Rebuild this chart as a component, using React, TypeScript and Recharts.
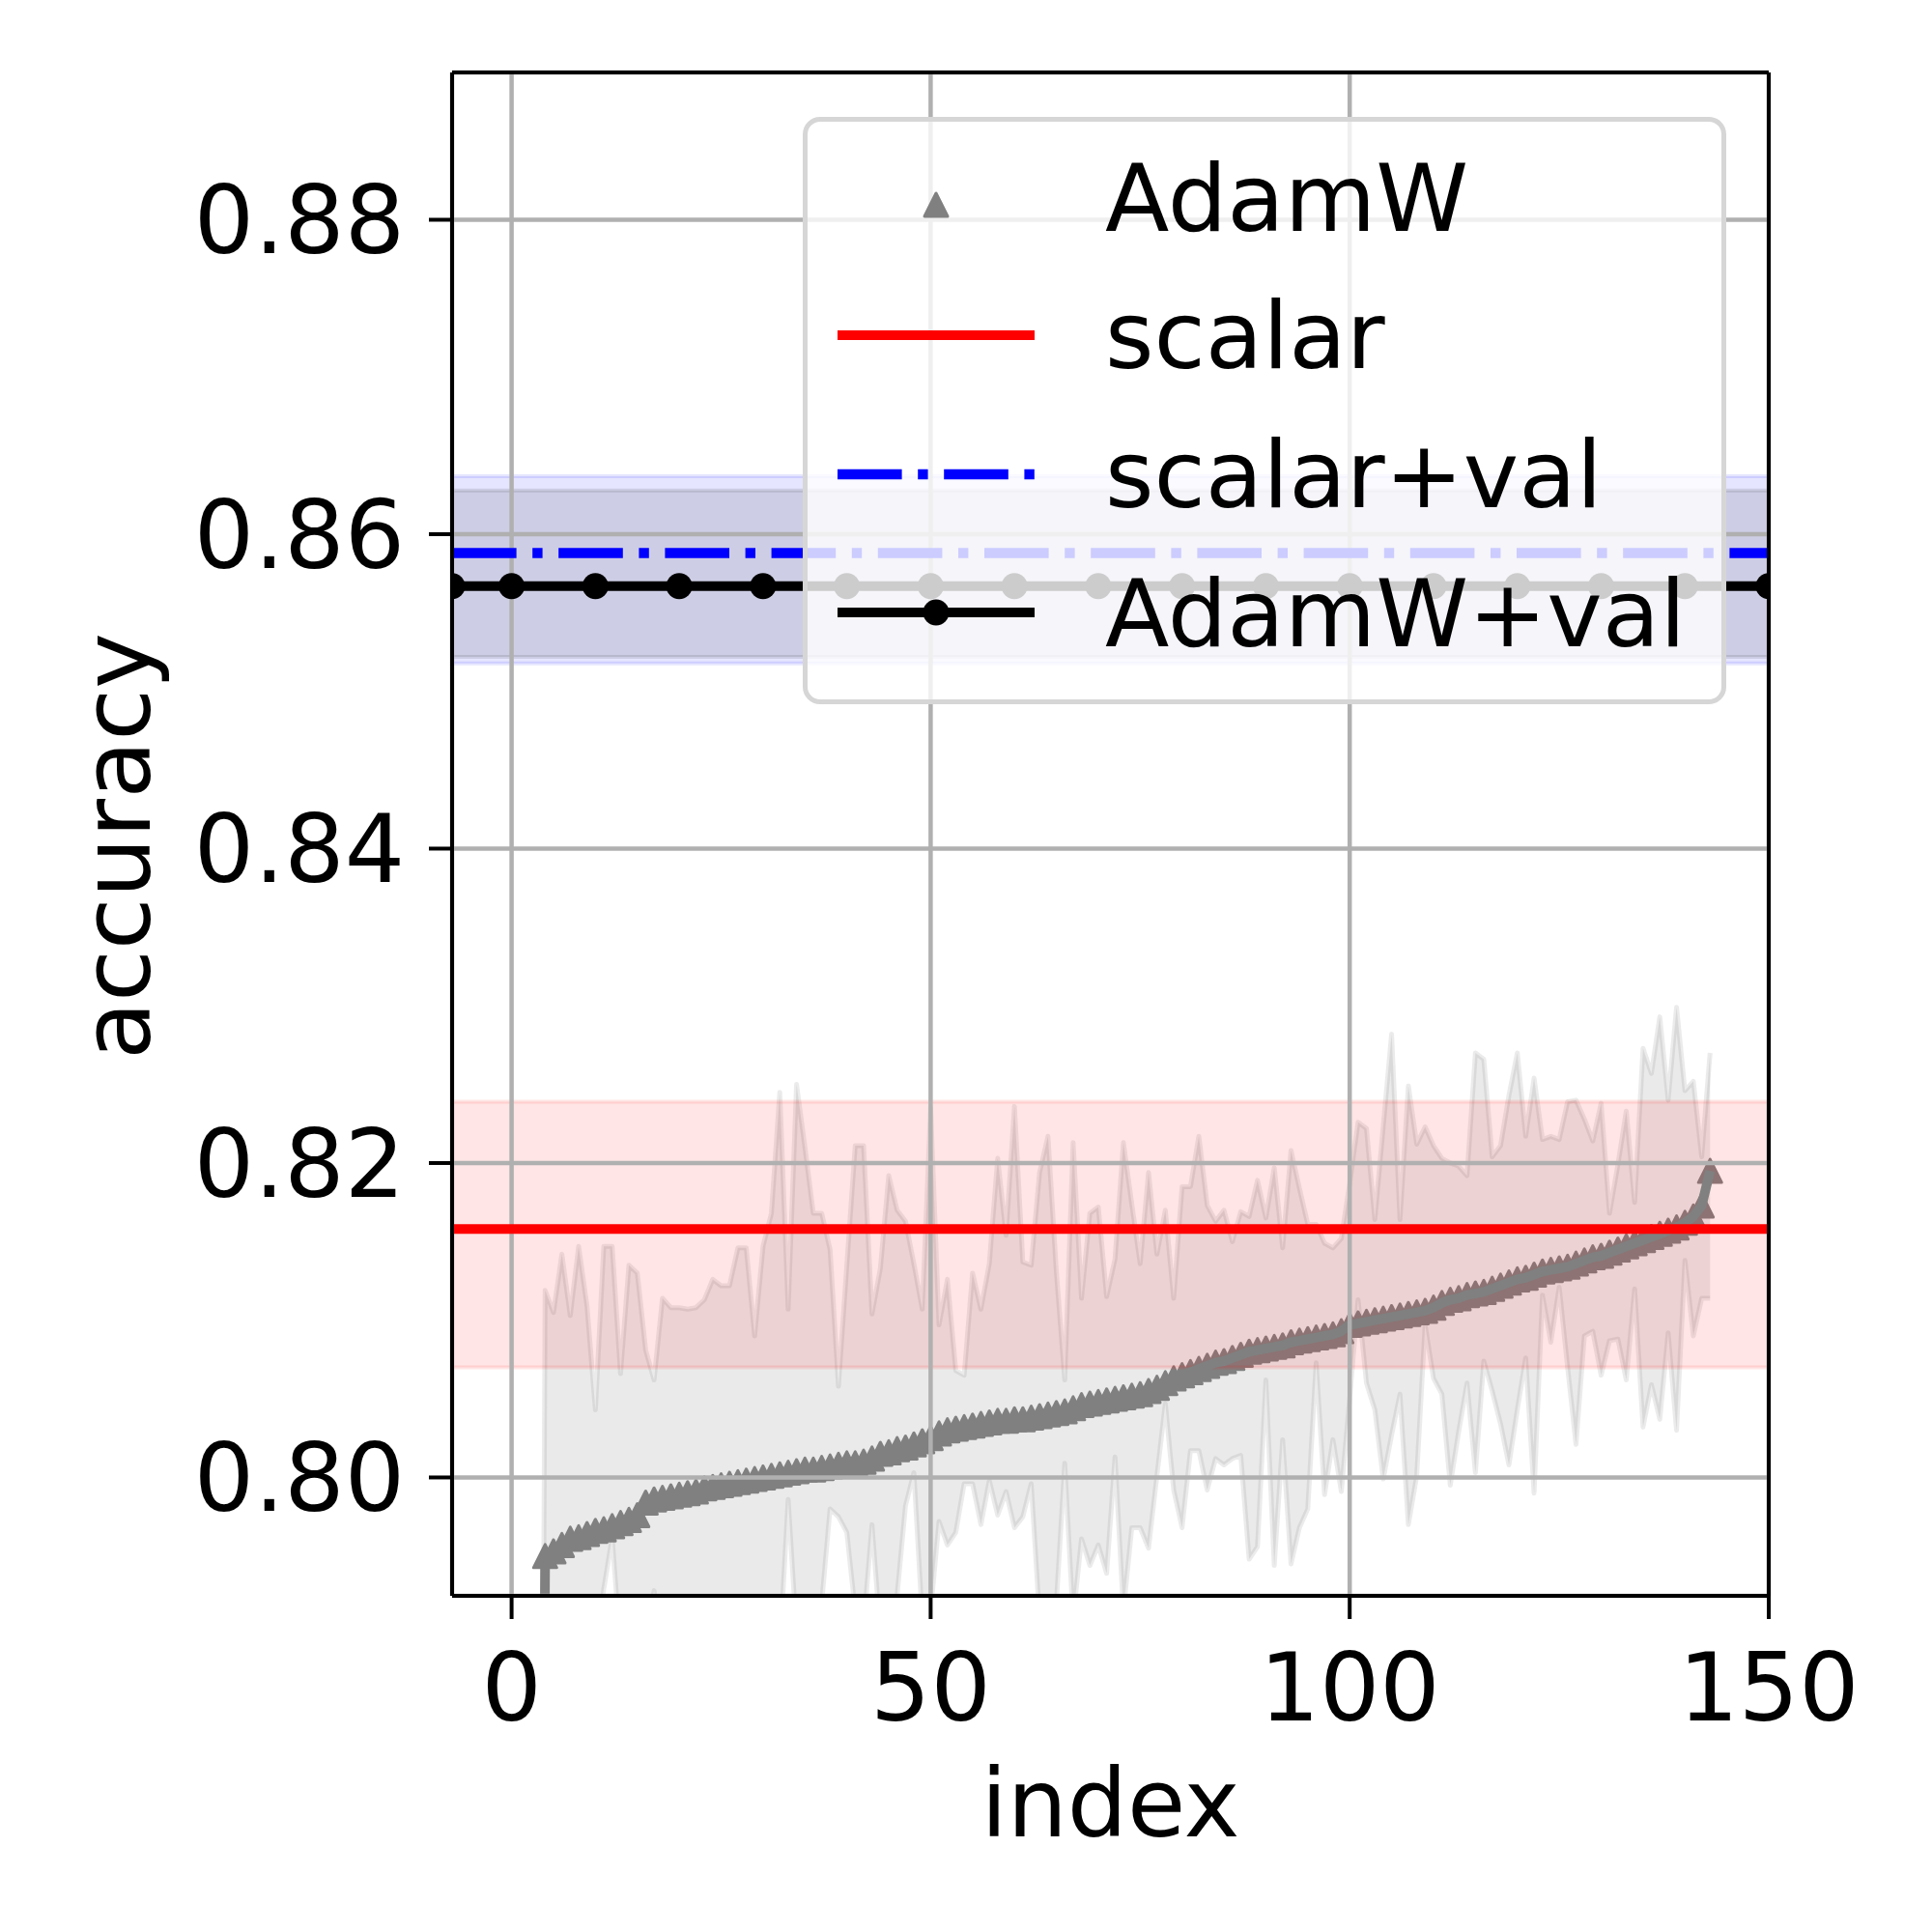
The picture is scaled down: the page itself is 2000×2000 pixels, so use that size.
import {
  ComposedChart,
  Area,
  Line,
  Scatter,
  XAxis,
  YAxis,
  CartesianGrid,
  ReferenceLine,
  Legend,
  Label,
} from 'recharts'

const FONT = '"DejaVu Sans", sans-serif'
const FONT_SIZE = 98

// AdamW runs, sorted by mean accuracy; the first four fall far below the plotted range
const FIRST_INDEX = 0

const ADAMW_MEAN = [
  0.6400, 0.6600, 0.6800, 0.7000,
  0.7950, 0.7953, 0.7957, 0.7961, 0.7962, 0.7964, 0.7966, 0.7967, 0.7969, 0.7971,
  0.7973, 0.7976, 0.7984, 0.7986, 0.7987, 0.7988, 0.7989, 0.7990, 0.7991, 0.7993,
  0.7994, 0.7995, 0.7996, 0.7997, 0.7998, 0.7999, 0.8000, 0.8001, 0.8002, 0.8003,
  0.8004, 0.8005, 0.8005, 0.8006, 0.8007, 0.8008, 0.8009, 0.8009, 0.8010, 0.8012,
  0.8015, 0.8016, 0.8018, 0.8019, 0.8021, 0.8023, 0.8025, 0.8028, 0.8030, 0.8031,
  0.8032, 0.8033, 0.8034, 0.8035, 0.8036, 0.8036, 0.8037, 0.8037, 0.8038, 0.8039,
  0.8040, 0.8041, 0.8042, 0.8044, 0.8046, 0.8047, 0.8048, 0.8049, 0.8050, 0.8051,
  0.8052, 0.8053, 0.8055, 0.8057, 0.8060, 0.8063, 0.8065, 0.8067, 0.8069, 0.8071,
  0.8073, 0.8074, 0.8076, 0.8078, 0.8080, 0.8081, 0.8082, 0.8083, 0.8084, 0.8086,
  0.8087, 0.8088, 0.8089, 0.8090, 0.8091, 0.8093, 0.8097, 0.8098, 0.8099, 0.8100,
  0.8101, 0.8102, 0.8103, 0.8104, 0.8105, 0.8106, 0.8108, 0.8111, 0.8113, 0.8114,
  0.8116, 0.8117, 0.8118, 0.8120, 0.8122, 0.8124, 0.8126, 0.8127, 0.8129, 0.8131,
  0.8132, 0.8133, 0.8134, 0.8136, 0.8138, 0.8140, 0.8141, 0.8143, 0.8145, 0.8147,
  0.8149, 0.8151, 0.8153, 0.8155, 0.8157, 0.8159, 0.8162, 0.8166, 0.8173, 0.8195,
]

const ADAMW_UPPER = [
  0.6600, 0.6800, 0.6900, 0.7000,
  0.8119, 0.8105, 0.8142, 0.8103, 0.8147, 0.8109, 0.8043, 0.8147, 0.8147, 0.8066,
  0.8135, 0.8130, 0.8081, 0.8062, 0.8114, 0.8108, 0.8108, 0.8107, 0.8108, 0.8113,
  0.8126, 0.8122, 0.8122, 0.8146, 0.8146, 0.8090, 0.8147, 0.8168, 0.8245, 0.8107,
  0.8250, 0.8210, 0.8168, 0.8168, 0.8145, 0.8058, 0.8135, 0.8211, 0.8211, 0.8104,
  0.8133, 0.8192, 0.8170, 0.8163, 0.8136, 0.8107, 0.8235, 0.8097, 0.8126, 0.8068,
  0.8065, 0.8130, 0.8107, 0.8136, 0.8203, 0.8154, 0.8236, 0.8137, 0.8135, 0.8194,
  0.8217, 0.8131, 0.8062, 0.8213, 0.8114, 0.8168, 0.8172, 0.8115, 0.8139, 0.8213,
  0.8174, 0.8136, 0.8194, 0.8142, 0.8170, 0.8114, 0.8185, 0.8185, 0.8217, 0.8173,
  0.8163, 0.8170, 0.8150, 0.8169, 0.8166, 0.8189, 0.8165, 0.8197, 0.8146, 0.8208,
  0.8184, 0.8161, 0.8161, 0.8149, 0.8146, 0.8152, 0.8187, 0.8226, 0.8222, 0.8164,
  0.8223, 0.8282, 0.8164, 0.8249, 0.8212, 0.8223, 0.8211, 0.8203, 0.8200, 0.8198,
  0.8192, 0.8270, 0.8266, 0.8204, 0.8211, 0.8243, 0.8270, 0.8217, 0.8254, 0.8215,
  0.8217, 0.8215, 0.8239, 0.8240, 0.8228, 0.8214, 0.8238, 0.8168, 0.8199, 0.8233,
  0.8175, 0.8273, 0.8257, 0.8293, 0.8240, 0.8299, 0.8246, 0.8252, 0.8204, 0.8270,
]

const ADAMW_LOWER = [
  0.6200, 0.6400, 0.6600, 0.6800,
  0.7860, 0.7850, 0.7870, 0.7860, 0.7880, 0.7870, 0.7890, 0.7929, 0.7962, 0.7890,
  0.7870, 0.7880, 0.7900, 0.7928, 0.7890, 0.7870, 0.7880, 0.7890, 0.7880, 0.7900,
  0.7890, 0.7870, 0.7890, 0.7900, 0.7880, 0.7890, 0.7900, 0.7910, 0.7890, 0.7986,
  0.7900, 0.7890, 0.7910, 0.7920, 0.7980, 0.7975, 0.7965, 0.7915, 0.7905, 0.7970,
  0.7900, 0.7910, 0.7925, 0.7982, 0.8003, 0.7910, 0.7915, 0.7972, 0.7957, 0.7965,
  0.7996, 0.7996, 0.7970, 0.7998, 0.7976, 0.7991, 0.7968, 0.7975, 0.7996, 0.7910,
  0.7905, 0.7920, 0.8009, 0.7910, 0.7961, 0.7944, 0.7957, 0.7939, 0.8013, 0.7915,
  0.7968, 0.7968, 0.7955, 0.8001, 0.8047, 0.7992, 0.7968, 0.8017, 0.8017, 0.7992,
  0.8012, 0.8008, 0.8012, 0.8014, 0.7948, 0.7956, 0.8062, 0.7944, 0.8024, 0.7945,
  0.7968, 0.7980, 0.8073, 0.7989, 0.8024, 0.7991, 0.8050, 0.8113, 0.8060, 0.8043,
  0.7999, 0.8027, 0.8053, 0.7970, 0.8001, 0.8097, 0.8063, 0.8053, 0.7995, 0.8029,
  0.8060, 0.8003, 0.8074, 0.8055, 0.8034, 0.8008, 0.8043, 0.8076, 0.7990, 0.8116,
  0.8086, 0.8121, 0.8070, 0.8021, 0.8090, 0.8093, 0.8065, 0.8087, 0.8088, 0.8062,
  0.8120, 0.8032, 0.8059, 0.8037, 0.8092, 0.8030, 0.8138, 0.8090, 0.8114, 0.8114,
]

// horizontal references: mean and [low, high] band
const SCALAR_MEAN = 0.8158
const SCALAR_BAND = [0.807, 0.8239]
const SCALAR_VAL_MEAN = 0.8588
const SCALAR_VAL_BAND = [0.85178, 0.86369]
const ADAMW_VAL_MEAN = 0.8567
const ADAMW_VAL_BAND = [0.8522, 0.86278]
const ADAMW_VAL_X = [-7.1, 0, 10, 20, 30, 40, 50, 60, 70, 80, 90, 100, 110, 120, 130, 140, 150]

const X_DOMAIN = [-7.1, 150]
const Y_DOMAIN = [0.79247, 0.88937]
const X_TICKS = [0, 50, 100, 150]
const Y_TICKS = [0.8, 0.82, 0.84, 0.86, 0.88]

const DASH_DOT = '66.6 16.6 10.4 16.6'

function Triangle(props: any) {
  const { cx, cy } = props
  if (cx == null || cy == null) return null
  const h = 12
  return (
    <polygon
      points={`${cx},${cy - h} ${cx - h},${cy + h} ${cx + h},${cy + h}`}
      fill="#808080"
      stroke="#808080"
      strokeWidth={3}
      strokeLinejoin="round"
    />
  )
}

function LegendBox() {
  const textStyle = { fontFamily: FONT, fontSize: 97, fill: '#000' }
  return (
    <div
      style={{
        width: 956,
        height: 608,
        boxSizing: 'border-box',
        border: '5px solid #d6d6d6',
        borderRadius: 18,
        background: 'rgba(255,255,255,0.8)',
        position: 'relative',
      }}
    >
      <svg width={956} height={608} style={{ position: 'absolute', left: -5, top: -5, overflow: 'visible' }}>
        <polygon points="138,79 126,103 150,103" fill="#808080" stroke="#808080" strokeWidth={3} strokeLinejoin="round" />
        <text x={313} y={118} style={textStyle}>AdamW</text>

        <line x1={36} x2={240} y1={226} y2={226} stroke="#ff0000" strokeWidth={10} />
        <text x={313} y={260} style={textStyle}>scalar</text>

        <line x1={36} x2={240} y1={370} y2={370} stroke="#0000ff" strokeWidth={10.4} strokeDasharray={DASH_DOT} />
        <text x={313} y={404} style={textStyle}>scalar+val</text>

        <line x1={36} x2={240} y1={513} y2={513} stroke="#000" strokeWidth={10} />
        <circle cx={138} cy={513} r={13.5} fill="#000" />
        <text x={313} y={548} style={textStyle}>AdamW+val</text>
      </svg>
    </div>
  )
}

export default function App() {
  const rows = ADAMW_MEAN.map((m, i) => ({
    x: FIRST_INDEX + i,
    mean: m,
    upper: ADAMW_UPPER[i],
    lower: ADAMW_LOWER[i],
    band: [ADAMW_LOWER[i], ADAMW_UPPER[i]],
  }))
  const edgeRows = X_DOMAIN.map((x) => ({
    x,
    scalar: SCALAR_MEAN,
    scalarBand: SCALAR_BAND,
    scalarVal: SCALAR_VAL_MEAN,
    scalarValBand: SCALAR_VAL_BAND,
    adamwValBand: ADAMW_VAL_BAND,
  }))
  const adamwValRows = ADAMW_VAL_X.map((x) => ({ x, v: ADAMW_VAL_MEAN }))

  const tick = { fill: '#000', fontSize: FONT_SIZE, fontFamily: FONT }
  const axisStroke = { stroke: '#000', strokeWidth: 4 }

  return (
    <div style={{ position: 'absolute', left: 0, top: 0, width: 2000, height: 2000, background: '#fff', fontFamily: FONT }}>
      <ComposedChart width={2000} height={2000} data={rows} margin={{ top: 75, right: 169, bottom: 0, left: 0 }}>
        <XAxis
          dataKey="x"
          type="number"
          domain={X_DOMAIN}
          ticks={X_TICKS}
          interval={0}
          allowDataOverflow
          height={348}
          tickSize={24}
          tickMargin={35}
          tick={tick}
          tickLine={axisStroke}
          axisLine={axisStroke}
        >
          <Label
            content={(p: any) => (
              <text
                x={p.viewBox.x + p.viewBox.width / 2}
                y={1901}
                textAnchor="middle"
                style={{ fontFamily: FONT, fontSize: FONT_SIZE, fill: '#000' }}
              >
                index
              </text>
            )}
          />
        </XAxis>
        <YAxis
          type="number"
          domain={Y_DOMAIN}
          ticks={Y_TICKS}
          interval={0}
          allowDataOverflow
          width={468}
          tickSize={24}
          tickMargin={25}
          tick={tick}
          tickLine={axisStroke}
          axisLine={axisStroke}
          tickFormatter={(v: number) => v.toFixed(2)}
        >
          <Label
            content={() => (
              <text
                transform="translate(155, 876) rotate(-90)"
                textAnchor="middle"
                style={{ fontFamily: FONT, fontSize: FONT_SIZE, fill: '#000' }}
              >
                accuracy
              </text>
            )}
          />
        </YAxis>

        <Area
          dataKey="band"
          type="linear"
          fill="#808080"
          fillOpacity={0.17}
          stroke="none"
          dot={false}
          activeDot={false}
          isAnimationActive={false}
          zIndex={100}
        />
        <Line dataKey="upper" type="linear" stroke="#808080" strokeOpacity={0.16} strokeWidth={5} strokeLinejoin="round" dot={false} activeDot={false} isAnimationActive={false} zIndex={110} />
        <Line dataKey="lower" type="linear" stroke="#808080" strokeOpacity={0.16} strokeWidth={5} strokeLinejoin="round" dot={false} activeDot={false} isAnimationActive={false} zIndex={111} />
        <Scatter dataKey="mean" shape={Triangle} isAnimationActive={false} zIndex={120} />

        <Area data={edgeRows} dataKey="scalarBand" type="linear" fill="#ff0000" fillOpacity={0.1} stroke="#ff0000" strokeOpacity={0.1} strokeWidth={4} dot={false} activeDot={false} isAnimationActive={false} zIndex={130} />
        <Area data={edgeRows} dataKey="scalarValBand" type="linear" fill="#0000ff" fillOpacity={0.1} stroke="#0000ff" strokeOpacity={0.1} strokeWidth={4} dot={false} activeDot={false} isAnimationActive={false} zIndex={131} />
        <Area data={edgeRows} dataKey="adamwValBand" type="linear" fill="#000000" fillOpacity={0.1} stroke="#000000" strokeOpacity={0.1} strokeWidth={4} dot={false} activeDot={false} isAnimationActive={false} zIndex={132} />

        <Line dataKey="mean" type="linear" stroke="#808080" strokeWidth={10} strokeLinejoin="round" dot={false} activeDot={false} isAnimationActive={false} zIndex={140} />

        <CartesianGrid stroke="#b0b0b0" strokeWidth={4.5} zIndex={160} />

        <Line data={edgeRows} dataKey="scalar" type="linear" stroke="#ff0000" strokeWidth={10} dot={false} activeDot={false} isAnimationActive={false} zIndex={170} />
        <Line data={edgeRows} dataKey="scalarVal" type="linear" stroke="#0000ff" strokeWidth={10.4} strokeDasharray={DASH_DOT} dot={false} activeDot={false} isAnimationActive={false} zIndex={171} />
        <Line
          data={adamwValRows}
          dataKey="v"
          type="linear"
          stroke="#000"
          strokeWidth={10}
          dot={{ r: 13.5, fill: '#000', stroke: '#000', strokeWidth: 0 }}
          activeDot={false}
          isAnimationActive={false}
          zIndex={172}
        />

        <ReferenceLine y={Y_DOMAIN[1]} stroke="#000" strokeWidth={4} ifOverflow="visible" zIndex={600} />
        <ReferenceLine x={X_DOMAIN[1]} stroke="#000" strokeWidth={4} ifOverflow="visible" zIndex={600} />

        <Legend
          content={LegendBox}
          layout="horizontal"
          verticalAlign="middle"
          align="center"
          wrapperStyle={{ position: 'absolute', left: 831, top: 121, width: 956, height: 608 }}
        />
      </ComposedChart>
    </div>
  )
}
